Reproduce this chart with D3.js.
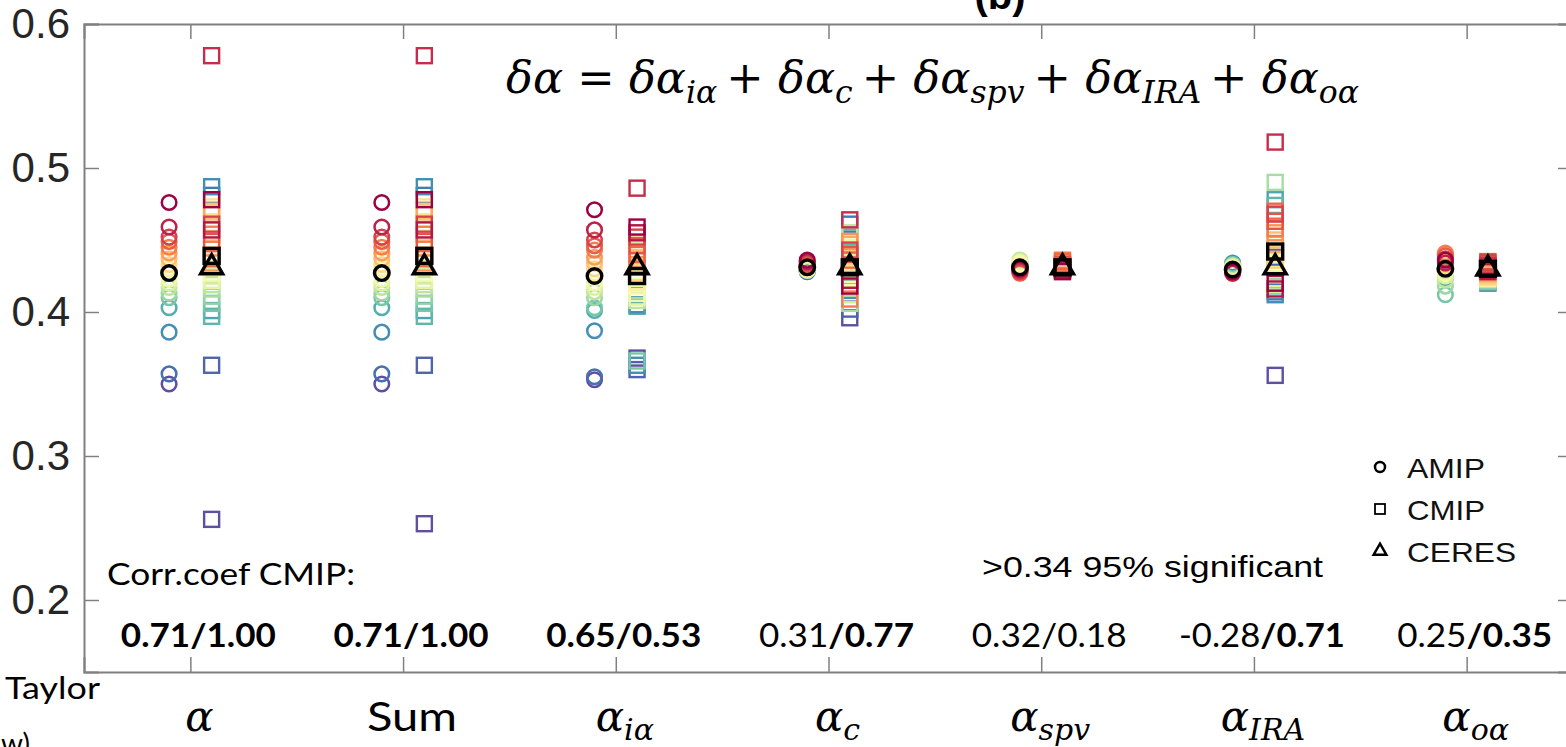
<!DOCTYPE html>
<html>
<head>
<meta charset="utf-8">
<script src="https://cdn.jsdelivr.net/npm/d3@7"></script>
<style>
  body { margin: 0; background: #fff; }
  svg { display: block; }
</style>
</head>
<body>
<script>
// categories along x
const labelBase = ["α", "Sum", "α", "α", "α", "α", "α"];
const labelSub  = ["", "", "iα", "c", "spv", "IRA", "oα"];

// AMIP models (colour by model index, red -> purple)
const amipAlpha = [0.476, 0.459, 0.452, 0.449, 0.445, 0.441, 0.437, 0.433, 0.430, 0.427, 0.423, 0.420, 0.417, 0.413, 0.410, 0.403, 0.386, 0.357, 0.350];
const amipSum   = [0.476, 0.459, 0.452, 0.449, 0.445, 0.441, 0.437, 0.433, 0.430, 0.427, 0.423, 0.420, 0.417, 0.413, 0.410, 0.403, 0.386, 0.357, 0.350];
const amipIa    = [0.471, 0.457, 0.450, 0.446, 0.443, 0.438, 0.434, 0.430, 0.427, 0.424, 0.420, 0.417, 0.414, 0.410, 0.403, 0.401, 0.387, 0.355, 0.353];
const amipC     = [0.436, 0.435, 0.434, 0.433, 0.432, 0.432, 0.431, 0.431, 0.430, 0.430, 0.430, 0.429, 0.429, 0.430, 0.431, 0.429, 0.430, 0.428, 0.429];
const amipSpv   = [0.430, 0.429, 0.428, 0.427, 0.428, 0.429, 0.430, 0.431, 0.432, 0.433, 0.434, 0.435, 0.436, 0.434, 0.433, 0.432, 0.431, 0.430, 0.431];
const amipIra   = [0.428, 0.427, 0.428, 0.427, 0.428, 0.429, 0.429, 0.430, 0.430, 0.430, 0.431, 0.431, 0.432, 0.432, 0.433, 0.433, 0.434, 0.431, 0.430];
const amipOa    = [0.436, 0.434, 0.437, 0.439, 0.441, 0.440, 0.435, 0.432, 0.430, 0.429, 0.427, 0.425, 0.422, 0.418, 0.412, 0.424, 0.428, 0.429, 0.430];

// CMIP models
const cmipAlpha = [0.478, 0.457, 0.578, 0.461, 0.449, 0.437, 0.454, 0.434, 0.468, 0.470, 0.445, 0.473, 0.440, 0.431, 0.427, 0.462, 0.422, 0.425, 0.419, 0.416, 0.411, 0.406, 0.397, 0.401, 0.487, 0.481, 0.363, 0.256];
const cmipSum   = [0.478, 0.457, 0.578, 0.461, 0.449, 0.437, 0.454, 0.434, 0.468, 0.470, 0.445, 0.473, 0.440, 0.431, 0.427, 0.462, 0.422, 0.425, 0.419, 0.416, 0.411, 0.406, 0.397, 0.401, 0.487, 0.481, 0.363, 0.253];
const cmipIa    = [0.459, 0.455, 0.486, 0.452, 0.446, 0.440, 0.436, 0.433, 0.431, 0.448, 0.427, 0.438, 0.421, 0.424, 0.418, 0.413, 0.410, 0.443, 0.408, 0.415, 0.428, 0.366, 0.412, 0.404, 0.363, 0.405, 0.360, 0.368];
const cmipC     = [0.418, 0.422, 0.464, 0.443, 0.440, 0.436, 0.409, 0.449, 0.447, 0.432, 0.428, 0.434, 0.430, 0.426, 0.424, 0.445, 0.437, 0.412, 0.455, 0.406, 0.433, 0.429, 0.452, 0.427, 0.415, 0.461, 0.402, 0.396];
const cmipSpv   = [0.428, 0.429, 0.430, 0.431, 0.433, 0.435, 0.436, 0.434, 0.432, 0.431, 0.430, 0.432, 0.433, 0.431, 0.430, 0.429, 0.432, 0.431, 0.430, 0.433, 0.431, 0.430, 0.429, 0.432, 0.431, 0.430, 0.431, 0.432];
const cmipIra   = [0.420, 0.416, 0.518, 0.468, 0.463, 0.470, 0.458, 0.455, 0.447, 0.450, 0.436, 0.430, 0.433, 0.441, 0.426, 0.445, 0.423, 0.419, 0.421, 0.490, 0.426, 0.418, 0.474, 0.478, 0.412, 0.414, 0.438, 0.356];
const cmipOa    = [0.430, 0.428, 0.432, 0.434, 0.435, 0.433, 0.431, 0.429, 0.427, 0.426, 0.425, 0.424, 0.423, 0.428, 0.430, 0.431, 0.429, 0.427, 0.426, 0.425, 0.422, 0.421, 0.428, 0.430, 0.420, 0.429, 0.427, 0.421];

// ensemble means and observation
const amipMean = [0.427, 0.427, 0.425, 0.431, 0.431, 0.4295, 0.430];
const cmipMean = [0.439, 0.439, 0.425, 0.431, 0.431, 0.442, 0.430];
const ceres    = [0.431, 0.431, 0.431, 0.431, 0.431, 0.431, 0.430];

// correlation coefficients (AMIP / CMIP)
const corrAmip = [0.71, 0.71, 0.65, 0.31, 0.32, -0.28, 0.25];
const corrCmip = [1.00, 1.00, 0.53, 0.77, 0.18, 0.71, 0.35];
const sigLevel = 0.34;

const yTicks = [0.2, 0.3, 0.4, 0.5, 0.6];

const amipSeries = [amipAlpha, amipSum, amipIa, amipC, amipSpv, amipIra, amipOa];
const cmipSeries = [cmipAlpha, cmipSum, cmipIa, cmipC, cmipSpv, cmipIra, cmipOa];

const W = 1566, H = 747;
const svg = d3.select("body").append("svg").attr("width", W).attr("height", H);

const x = d3.scaleLinear().domain([0.5, 7.5]).range([84, 1573]);
const y = d3.scaleLinear().domain([0.15, 0.6]).range([672, 24]);
const axisCol = "#808080";

// axes (ticks inward on all four sides)
const gL = svg.append("g").attr("transform", `translate(${x(0.5)},0)`)
  .call(d3.axisLeft(y).tickValues(yTicks).tickSize(-15).tickPadding(14).tickFormat(d3.format(".1f")));
const gR = svg.append("g").attr("transform", `translate(${x(7.5)},0)`)
  .call(d3.axisRight(y).tickValues(yTicks).tickSize(-15).tickFormat(""));
const xTicks = d3.range(1, 8);
const gB = svg.append("g").attr("transform", `translate(0,${y(0.15)})`)
  .call(d3.axisBottom(x).tickValues(xTicks).tickSize(-15).tickFormat(""));
const gT = svg.append("g").attr("transform", `translate(0,${y(0.6)})`)
  .call(d3.axisTop(x).tickValues(xTicks).tickSize(-15).tickFormat(""));

[gL, gR, gB, gT].forEach(g => {
  g.select(".domain").attr("stroke", axisCol).attr("stroke-width", 2);
  g.selectAll(".tick line").attr("stroke", axisCol).attr("stroke-width", 1.5);
});
gL.selectAll(".tick text")
  .attr("font-family", "Liberation Sans, Arial, sans-serif")
  .attr("font-size", 42).attr("fill", "#262626");

const marks = svg.append("g");
const off = 0.1;

// AMIP circles
amipSeries.forEach((vals, k) => {
  const n = vals.length;
  marks.append("g").selectAll("circle")
    .data(vals.map((v, i) => ({ v, i })).reverse())
    .join("circle")
    .attr("cx", x(k + 1 - off))
    .attr("cy", d => y(d.v))
    .attr("r", 7.3)
    .attr("fill", "none")
    .attr("stroke", d => d3.interpolateSpectral(d.i / (n - 1)))
    .attr("stroke-width", 2.5);
});

// CMIP squares
cmipSeries.forEach((vals, k) => {
  const n = vals.length;
  marks.append("g").selectAll("rect")
    .data(vals.map((v, i) => ({ v, i })).reverse())
    .join("rect")
    .attr("x", x(k + 1 + off) - 7.5)
    .attr("y", d => y(d.v) - 7.5)
    .attr("width", 15).attr("height", 15)
    .attr("fill", "none")
    .attr("stroke", d => d3.interpolateSpectral(d.i / (n - 1)))
    .attr("stroke-width", 2.4);
});

// means
marks.append("g").selectAll("circle").data(amipMean).join("circle")
  .attr("cx", (d, k) => x(k + 1 - off)).attr("cy", d => y(d))
  .attr("r", 7.3).attr("fill", "none").attr("stroke", "#000").attr("stroke-width", 3.4);
marks.append("g").selectAll("rect").data(cmipMean).join("rect")
  .attr("x", (d, k) => x(k + 1 + off) - 7.5).attr("y", d => y(d) - 7.5)
  .attr("width", 15).attr("height", 15)
  .attr("fill", "none").attr("stroke", "#000").attr("stroke-width", 3.4);
const tri = d3.symbol(d3.symbolTriangle, 210);
marks.append("g").selectAll("path").data(ceres).join("path")
  .attr("d", tri)
  .attr("transform", (d, k) => `translate(${x(k + 1 + off)},${y(d)})`)
  .attr("fill", "none").attr("stroke", "#000").attr("stroke-width", 3.4);

// category labels
const mathFont = "DejaVu Serif, serif";
const catG = svg.append("g");
labelBase.forEach((b, k) => {
  const t = catG.append("text")
    .attr("x", x(k + 1) + 9).attr("y", 731)
    .attr("text-anchor", "middle").attr("fill", "#000");
  if (b === "Sum") {
    t.attr("font-family", "Lato, sans-serif").attr("font-size", 40).text(b)
      .attr("textLength", 90).attr("lengthAdjust", "spacingAndGlyphs");
  } else {
    t.attr("font-family", mathFont).attr("font-style", "italic").attr("font-size", 42);
    t.append("tspan").text(b);
    if (labelSub[k]) t.append("tspan").attr("font-size", 30).attr("dy", 9).text(labelSub[k]);
  }
});

// equation
const eq = svg.append("text")
  .attr("x", 506).attr("y", 93)
  .attr("font-family", mathFont).attr("font-size", 44).attr("fill", "#000")
  .attr("textLength", 862).attr("lengthAdjust", "spacingAndGlyphs");
function addVar(sub) {
  eq.append("tspan").attr("font-style", "italic").text("δα");
  eq.append("tspan").attr("font-style", "italic").attr("font-size", 31).attr("dy", 10).text(sub);
  eq.append("tspan").attr("dy", -10).text("\u2009");
}
eq.append("tspan").attr("font-style", "italic").text("δα");
eq.append("tspan").text(" = ");
labelSub.slice(2).forEach((s, i) => {
  addVar(s);
  if (i < 4) eq.append("tspan").text("+ ");
});

// correlation annotations
const annFont = "Lato, sans-serif";
svg.append("text").attr("x", 107).attr("y", 585)
  .attr("font-family", annFont).attr("font-size", 30).attr("fill", "#000")
  .attr("textLength", 248).attr("lengthAdjust", "spacingAndGlyphs")
  .text("Corr.coef CMIP:");

const corrG = svg.append("g");
corrAmip.forEach((a, k) => {
  const b = corrCmip[k];
  const t = corrG.append("text")
    .attr("x", x(k + 1) + 8).attr("y", 647)
    .attr("text-anchor", "middle")
    .attr("font-family", annFont).attr("font-size", 32).attr("fill", "#000")
    .attr("textLength", a < 0 ? 166 : 155).attr("lengthAdjust", "spacingAndGlyphs");
  t.append("tspan").attr("font-weight", a > sigLevel ? 700 : 400).text(a.toFixed(2));
  t.append("tspan").attr("font-weight", b > sigLevel ? 700 : 400).text("/" + b.toFixed(2));
});

svg.append("text").attr("x", 982).attr("y", 577)
  .attr("font-family", "Liberation Sans, Arial, sans-serif").attr("font-size", 30).attr("fill", "#000")
  .attr("textLength", 341).attr("lengthAdjust", "spacingAndGlyphs")
  .text(">" + sigLevel.toFixed(2) + " 95% significant");

// legend
const leg = svg.append("g");
const legItems = [["AMIP", 478, 78], ["CMIP", 520, 78], ["CERES", 562, 109]];
leg.append("circle").attr("cx", 1380).attr("cy", 467).attr("r", 5)
  .attr("fill", "none").attr("stroke", "#000").attr("stroke-width", 2.5);
leg.append("rect").attr("x", 1375).attr("y", 504).attr("width", 10).attr("height", 10)
  .attr("fill", "none").attr("stroke", "#000").attr("stroke-width", 1.8);
leg.append("path").attr("d", d3.symbol(d3.symbolTriangle, 70))
  .attr("transform", "translate(1380,551)")
  .attr("fill", "none").attr("stroke", "#000").attr("stroke-width", 2.5);
legItems.forEach(([t, yy, w]) => {
  leg.append("text").attr("x", 1407).attr("y", yy)
    .attr("font-family", "Liberation Sans, Arial, sans-serif").attr("font-size", 28).attr("fill", "#111")
    .attr("textLength", w).attr("lengthAdjust", "spacingAndGlyphs").text(t);
});

// cut-off pieces of surrounding slide text
svg.append("text").attr("x", 5).attr("y", 699)
  .attr("font-family", annFont).attr("font-size", 30).attr("fill", "#000")
  .attr("textLength", 95).attr("lengthAdjust", "spacingAndGlyphs").text("Taylor");
svg.append("text").attr("x", 30).attr("y", 754).attr("text-anchor", "end")
  .attr("font-family", annFont).attr("font-size", 28).attr("fill", "#000").text("w)");
svg.append("text").attr("x", 1000).attr("y", 9).attr("text-anchor", "middle")
  .attr("font-family", "Liberation Sans, Arial, sans-serif").attr("font-weight", 700)
  .attr("font-size", 40).attr("fill", "#000").text("(b)");
</script>
</body>
</html>
